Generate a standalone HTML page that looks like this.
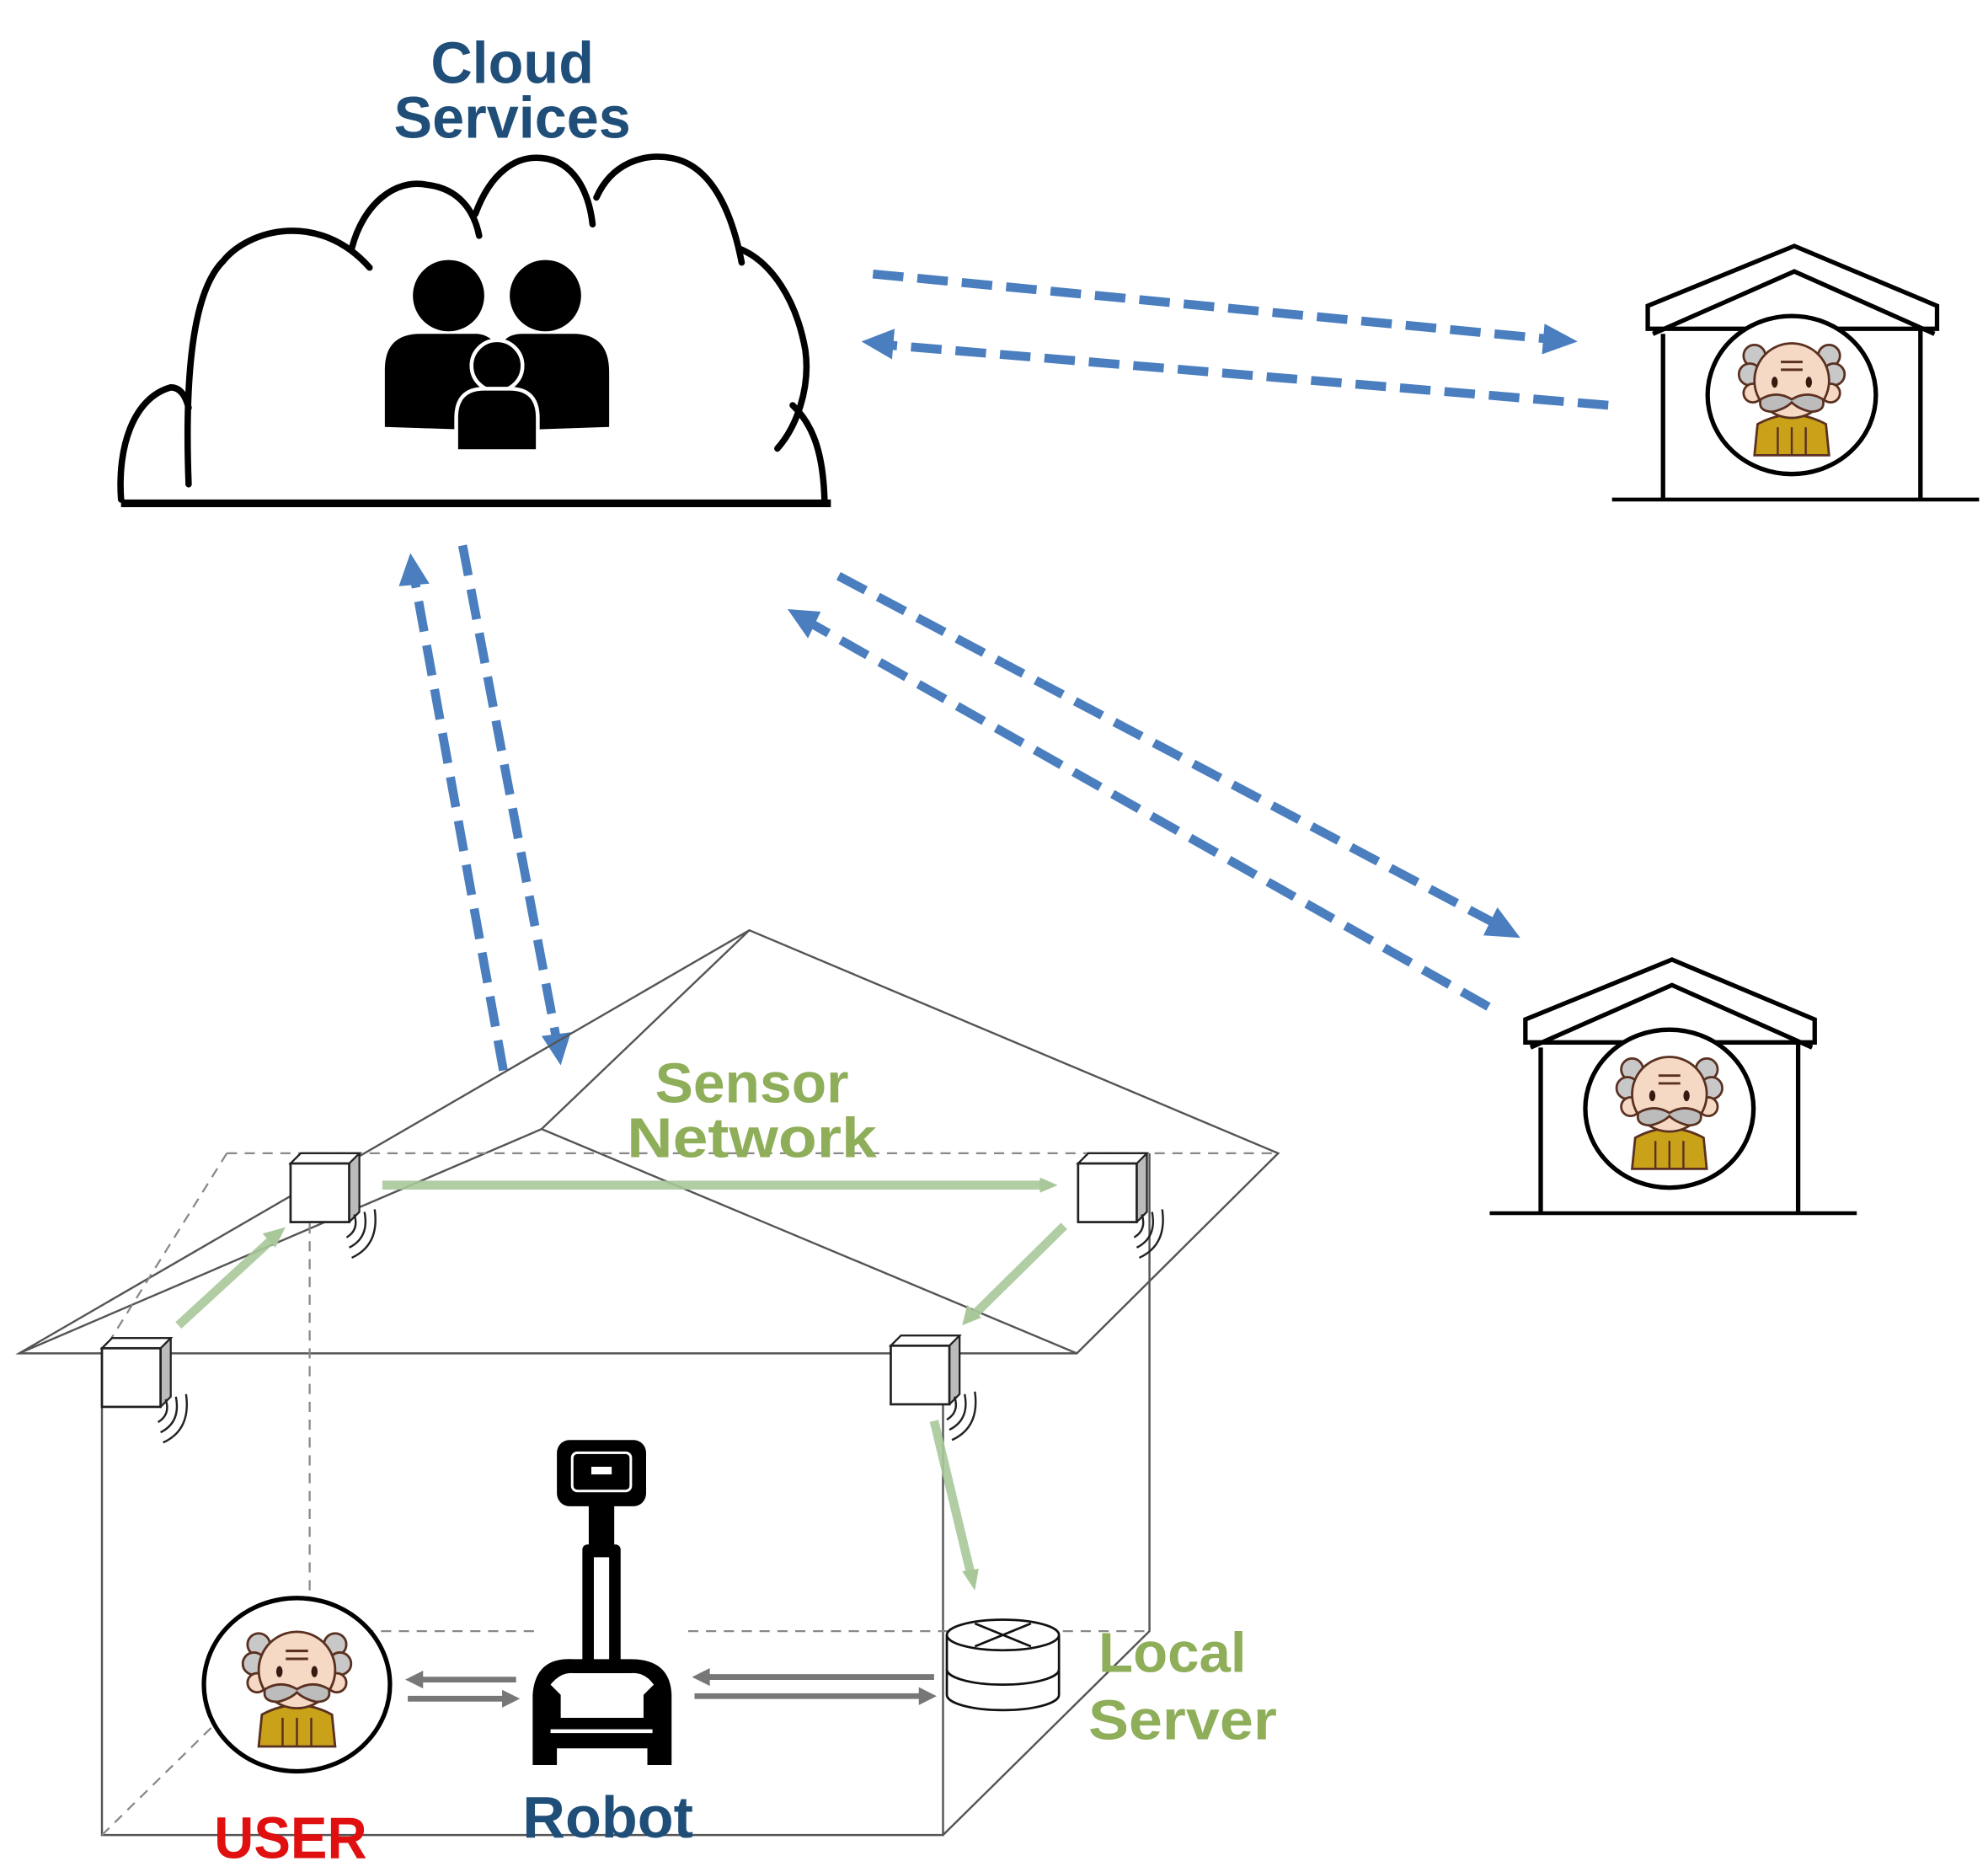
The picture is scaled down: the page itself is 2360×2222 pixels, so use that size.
<!DOCTYPE html>
<html><head><meta charset="utf-8"><style>html,body{margin:0;padding:0;background:#fff}svg{display:block}</style></head>
<body>
<svg width="2360" height="2222" viewBox="0 0 1560 1469" preserveAspectRatio="none" xmlns="http://www.w3.org/2000/svg">
<defs>
<g id="man">
 <circle cx="-24" cy="-22" r="7" fill="#c8c8c8" stroke="#5a3020" stroke-width="1.5"/>
 <circle cx="24" cy="-22" r="7" fill="#c8c8c8" stroke="#5a3020" stroke-width="1.5"/>
 <circle cx="-27" cy="-10" r="7" fill="#c8c8c8" stroke="#5a3020" stroke-width="1.5"/>
 <circle cx="27" cy="-10" r="7" fill="#c8c8c8" stroke="#5a3020" stroke-width="1.5"/>
 <circle cx="-25" cy="2" r="6" fill="#f5d9c4" stroke="#5a3020" stroke-width="1.5"/>
 <circle cx="25" cy="2" r="6" fill="#f5d9c4" stroke="#5a3020" stroke-width="1.5"/>
 <path d="M-24 42 L-22 22 Q0 10 22 22 L24 42 Z" fill="#c9a21a" stroke="#5a3020" stroke-width="1.5"/>
 <circle cx="0" cy="-6" r="24" fill="#f5d9c4" stroke="#5a3020" stroke-width="1.5"/>
 <line x1="-7" y1="-18" x2="7" y2="-18" stroke="#5a3020" stroke-width="1.6"/>
 <line x1="-7" y1="-13" x2="7" y2="-13" stroke="#5a3020" stroke-width="1.6"/>
 <ellipse cx="-11" cy="-5" rx="2" ry="3.5" fill="#3a1a10"/>
 <ellipse cx="11" cy="-5" rx="2" ry="3.5" fill="#3a1a10"/>
 <path d="M0 6 Q-10 0 -20 6 Q-22 14 -12 14 Q-4 12 0 8 Q4 12 12 14 Q22 14 20 6 Q10 0 0 6Z" fill="#bcbcbc" stroke="#5a3020" stroke-width="1.5"/>
 <line x1="-9" y1="24" x2="-9" y2="42" stroke="#5a3020" stroke-width="1.3"/>
 <line x1="0" y1="24" x2="0" y2="42" stroke="#5a3020" stroke-width="1.3"/>
 <line x1="9" y1="24" x2="9" y2="42" stroke="#5a3020" stroke-width="1.3"/>
</g>
<g id="house">
 <path d="M1293 258 L1293 240 L1408 193 L1520 240 L1520 258 Z" fill="#fff" stroke="#000" stroke-width="3.5" stroke-linejoin="miter"/>
 <path d="M1297 262 L1408 213 L1518 262" fill="none" stroke="#000" stroke-width="3.5"/>
 <line x1="1305" y1="262" x2="1305" y2="391" stroke="#000" stroke-width="3.5"/>
 <line x1="1507" y1="258" x2="1507" y2="391" stroke="#000" stroke-width="3.5"/>
 <line x1="1265" y1="392" x2="1553" y2="392" stroke="#000" stroke-width="3"/>
 <ellipse cx="1406" cy="310" rx="66" ry="62" fill="#fff" stroke="#000" stroke-width="3.5"/>
 <use href="#man" transform="translate(1406,306) scale(1.22)"/>
</g>
<g id="cube">
 <path d="M0 8 L8 0 L54 0 L54 46 L46 54 Z" fill="#bbb" stroke="#222" stroke-width="1.5"/>
 <path d="M0 8 L8 0 L54 0 L46 8 Z" fill="#fff" stroke="#222" stroke-width="1.5"/>
 <rect x="0" y="8" width="46" height="46" fill="#fff" stroke="#222" stroke-width="1.8"/>
 <path d="M50 48 Q54 60 44 66 M58 46 Q62 66 46 74 M66 44 Q70 72 48 82" fill="none" stroke="#222" stroke-width="1.6"/>
</g>
</defs>

<g font-family="Liberation Sans, sans-serif" font-weight="bold" fill="#1f4e79">
 <text x="402" y="65" font-size="46" text-anchor="middle" textLength="128" lengthAdjust="spacingAndGlyphs">Cloud</text>
 <text x="402" y="108" font-size="46" text-anchor="middle" textLength="186" lengthAdjust="spacingAndGlyphs">Services</text>
</g>

<g fill="none" stroke="#000" stroke-width="5" stroke-linecap="round">
 <path d="M95 392 C92 350 105 312 134 304 C142 304 146 312 148 320"/>
 <path d="M148 380 C145 300 150 230 175 205 C195 180 250 165 290 210"/>
 <path d="M276 195 C285 160 310 140 335 145 C360 148 372 165 376 185"/>
 <path d="M373 168 C385 135 405 122 425 124 C450 126 462 150 465 176"/>
 <path d="M468 155 C480 128 505 120 527 124 C560 130 575 170 582 206"/>
 <path d="M580 195 C605 205 625 235 632 275 C636 305 625 335 610 352"/>
 <path d="M622 318 C640 335 646 360 647 392"/>
</g>
<line x1="95" y1="395" x2="652" y2="395" stroke="#000" stroke-width="6"/>

<g fill="#000">
 <ellipse cx="352" cy="232" rx="28" ry="28"/>
 <ellipse cx="428" cy="232" rx="28" ry="28"/>
 <path d="M302 335 L302 290 Q302 262 330 262 L375 262 Q390 264 392 280 L392 338 Z"/>
 <path d="M392 338 L392 280 Q392 262 410 262 L450 262 Q478 262 478 292 L478 335 Z"/>
 <circle cx="390" cy="287" r="20" stroke="#fff" stroke-width="3"/>
 <path d="M358 354 L358 328 Q358 305 380 305 L400 305 Q422 305 422 328 L422 354 Z" stroke="#fff" stroke-width="3"/>
</g>

<g stroke="#4a7ebf" stroke-width="7" fill="none" stroke-dasharray="24 11">
 <line x1="685" y1="215" x2="1215" y2="266"/>
 <line x1="1262" y1="318" x2="700" y2="271"/>
 <line x1="395" y1="840" x2="326" y2="458"/>
 <line x1="363" y1="428" x2="436" y2="812"/>
 <line x1="658" y1="452" x2="1172" y2="724"/>
 <line x1="1168" y1="790" x2="638" y2="490"/>
</g>
<g fill="#4a7ebf">
 <path d="M1238 268 L1212 254 L1210 278 Z"/>
 <path d="M676 268 L702 258 L700 282 Z"/>
 <path d="M322 434 L313 460 L337 458 Z"/>
 <path d="M440 836 L448 810 L425 813 Z"/>
 <path d="M1193 736 L1175 712 L1164 734 Z"/>
 <path d="M618 478 L644 480 L634 501 Z"/>
</g>

<use href="#house"/>
<use href="#house" transform="translate(-96,560)"/>

<g stroke="#555" stroke-width="1.6" fill="none">
 <path d="M15 1062 L588 730 L1003 905 L845 1062 Z"/>
 <path d="M15 1062 L425 886 L588 730 M425 886 L845 1062"/>
 <path d="M80 1062 L80 1440 L740 1440 L740 1062 M740 1440 L902 1280 L902 905"/>
</g>
<g stroke="#888" stroke-width="1.5" fill="none" stroke-dasharray="8 6">
 <path d="M178 905 L1003 905 M178 905 L80 1062 M243 960 L243 1280 M243 1280 L420 1280 M540 1280 L902 1280 M80 1440 L243 1280"/>
</g>

<g stroke="#a9c89a" stroke-width="7" fill="none" opacity="0.9">
 <line x1="140" y1="1040" x2="214" y2="972"/>
 <line x1="300" y1="930" x2="818" y2="930"/>
 <line x1="835" y1="962" x2="764" y2="1032"/>
 <line x1="733" y1="1115" x2="762" y2="1236"/>
</g>
<g fill="#a9c89a">
 <path d="M224 963 L206 968 L216 979 Z"/>
 <path d="M830 930 L816 924 L816 936 Z"/>
 <path d="M755 1040 L759 1024 L770 1034 Z"/>
 <path d="M765 1248 L755 1233 L768 1231 Z"/>
</g>

<use href="#cube" transform="translate(80,1050)"/>
<use href="#cube" transform="translate(228,905)"/>
<use href="#cube" transform="translate(846,905)"/>
<use href="#cube" transform="translate(699,1048)"/>

<g font-family="Liberation Sans, sans-serif" font-weight="bold" fill="#8fae5a">
 <text x="590" y="865" font-size="44" text-anchor="middle" textLength="152" lengthAdjust="spacingAndGlyphs">Sensor</text>
 <text x="590" y="908" font-size="44" text-anchor="middle" textLength="196" lengthAdjust="spacingAndGlyphs">Network</text>
 <text x="862" y="1312" font-size="44" textLength="116" lengthAdjust="spacingAndGlyphs">Local</text>
 <text x="854" y="1365" font-size="44" textLength="148" lengthAdjust="spacingAndGlyphs">Server</text>
</g>

<ellipse cx="233" cy="1322" rx="73" ry="68" fill="#fff" stroke="#000" stroke-width="3.5"/>
<use href="#man" transform="translate(233,1318) scale(1.25)"/>

<g stroke="#777" stroke-width="4.5" fill="none">
 <line x1="330" y1="1318" x2="405" y2="1318"/>
 <line x1="320" y1="1333" x2="396" y2="1333"/>
 <line x1="556" y1="1316" x2="733" y2="1316"/>
 <line x1="545" y1="1331" x2="722" y2="1331"/>
</g>
<g fill="#777">
 <path d="M318 1318 L332 1311 L332 1325 Z"/>
 <path d="M408 1333 L394 1326 L394 1340 Z"/>
 <path d="M543 1316 L557 1309 L557 1323 Z"/>
 <path d="M735 1331 L721 1324 L721 1338 Z"/>
</g>

<g>
 <rect x="437" y="1130" width="70" height="52" rx="10" fill="#000"/>
 <rect x="449" y="1140" width="46" height="30" rx="4" fill="none" stroke="#fff" stroke-width="2"/>
 <rect x="464" y="1151" width="16" height="6" fill="#fff"/>
 <rect x="462" y="1180" width="20" height="35" fill="#000"/>
 <rect x="457" y="1212" width="30" height="95" rx="4" fill="#000"/>
 <rect x="466" y="1222" width="12" height="83" fill="#fff"/>
 <path d="M418 1385 L418 1330 Q420 1300 450 1302 L495 1302 Q526 1302 527 1330 L527 1385 L508 1385 L508 1372 L437 1372 L437 1385 Z" fill="#000"/>
 <path d="M432 1322 Q440 1312 450 1313 L495 1313 Q506 1312 513 1322 L505 1330 L505 1348 L440 1348 L440 1330 Z" fill="#fff"/>
 <rect x="432" y="1357" width="80" height="3" fill="#fff"/>
</g>

<g stroke="#111" stroke-width="1.8" fill="#fff">
 <path d="M743 1283 L743 1330 A44 12 0 0 0 831 1330 L831 1283"/>
 <path d="M743 1310 A44 12 0 0 0 831 1310" fill="none"/>
 <ellipse cx="787" cy="1283" rx="44" ry="12"/>
 <path d="M765 1274 L809 1292 M809 1274 L765 1292" fill="none"/>
</g>

<g font-family="Liberation Sans, sans-serif" font-weight="bold">
 <text x="228" y="1458" font-size="46" fill="#e01010" text-anchor="middle" textLength="120" lengthAdjust="spacingAndGlyphs">USER</text>
 <text x="477" y="1442" font-size="46" fill="#1f4e79" text-anchor="middle" textLength="134" lengthAdjust="spacingAndGlyphs">Robot</text>
</g>
</svg>
</body></html>
